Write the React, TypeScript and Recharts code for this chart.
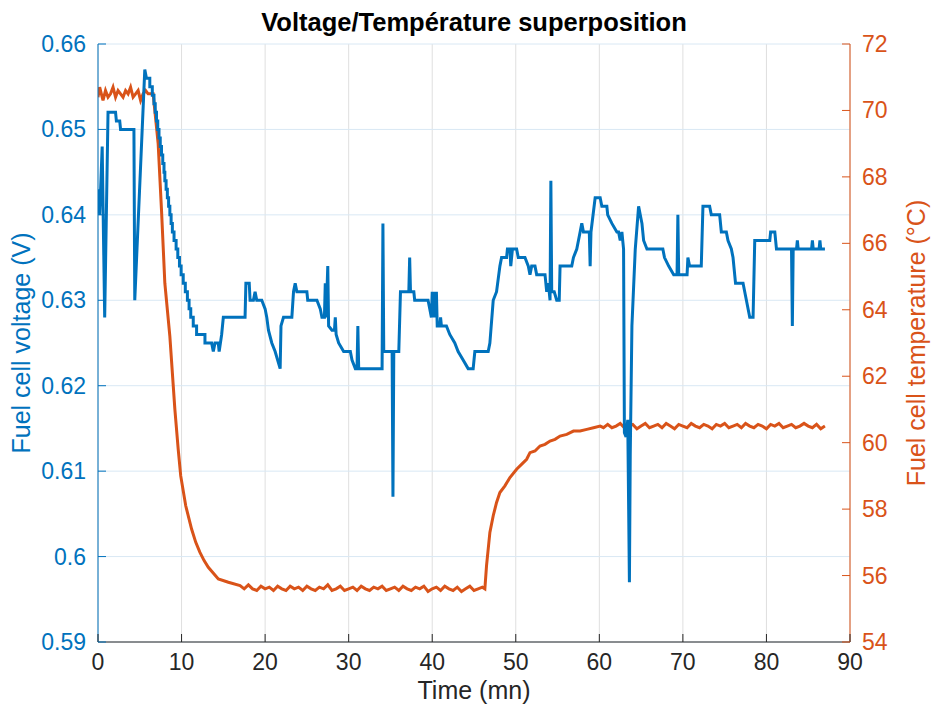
import React from 'react';
import { LineChart, Line, XAxis, YAxis, CartesianGrid, Label } from 'recharts';

const BLUE = '#0072BD';
const ORANGE = '#D95319';
const AXIS = '#262626';
const FONT = '"Liberation Sans", Arial, Helvetica, sans-serif';

const timeTicks = [0, 10, 20, 30, 40, 50, 60, 70, 80, 90];
const voltageTicks = [0.59, 0.6, 0.61, 0.62, 0.63, 0.64, 0.65, 0.66];
const temperatureTicks = [54, 56, 58, 60, 62, 64, 66, 68, 70, 72];

// [time (mn), voltage (V)]
const voltagePoints: [number, number][] = [
  [0, 0.643], [0.2, 0.64], [0.5, 0.648], [0.8, 0.628], [1.2, 0.652], [2.1, 0.652], [2.2, 0.651],
  [2.6, 0.651], [2.7, 0.65], [4.3, 0.65], [4.4, 0.63], [5.6, 0.657], [5.8, 0.656], [6.2, 0.656],
  [6.2, 0.655], [6.5, 0.655], [6.5, 0.654], [6.7, 0.654], [6.7, 0.653], [6.85, 0.653],
  [6.85, 0.652], [7.0, 0.652], [7.0, 0.651], [7.15, 0.651], [7.15, 0.65], [7.3, 0.65],
  [7.3, 0.649], [7.45, 0.649], [7.45, 0.648], [7.6, 0.648], [7.6, 0.647], [7.75, 0.647],
  [7.75, 0.646], [7.9, 0.646], [7.9, 0.645], [8.0, 0.645], [8.0, 0.644], [8.15, 0.644],
  [8.15, 0.643], [8.3, 0.643], [8.3, 0.642], [8.45, 0.642], [8.45, 0.641], [8.6, 0.641],
  [8.6, 0.64], [8.75, 0.64], [8.75, 0.639], [8.9, 0.639], [8.9, 0.638], [9.1, 0.638],
  [9.1, 0.637], [9.35, 0.637], [9.35, 0.636], [9.55, 0.636], [9.55, 0.635], [9.75, 0.635],
  [9.75, 0.634], [9.95, 0.634], [9.95, 0.633], [10.2, 0.633], [10.2, 0.632], [10.45, 0.632],
  [10.45, 0.631], [10.7, 0.631], [10.7, 0.63], [10.9, 0.63], [10.9, 0.629], [11.1, 0.629],
  [11.1, 0.628], [11.4, 0.628], [11.4, 0.627], [11.8, 0.627], [11.8, 0.626], [12.8, 0.626],
  [12.8, 0.625], [13.6, 0.625], [13.8, 0.624], [14.0, 0.625],
  [14.4, 0.625], [14.5, 0.624], [14.8, 0.626], [15.0, 0.628], [17.6, 0.628], [17.7, 0.632],
  [18.1, 0.632], [18.2, 0.63], [18.6, 0.63], [18.8, 0.631], [19.0, 0.63], [19.6, 0.63],
  [20.0, 0.629], [20.2, 0.628], [20.4, 0.6265], [20.8, 0.625], [21.2, 0.624], [21.5, 0.623],
  [21.8, 0.622], [21.9, 0.627],
  [22.2, 0.628], [23.2, 0.628], [23.4, 0.631], [23.6, 0.632], [23.8, 0.631], [25.0, 0.631],
  [25.1, 0.63], [26.2, 0.63], [26.6, 0.629], [26.8, 0.628], [27.1, 0.628], [27.2, 0.632],
  [27.3, 0.628], [27.5, 0.634], [27.6, 0.627], [28.0, 0.6265], [28.3, 0.6265], [28.4, 0.628],
  [28.5, 0.626], [28.8, 0.625], [29.4, 0.624], [30.2, 0.624], [30.4, 0.623], [30.8, 0.622],
  [31.0, 0.622], [31.1, 0.627], [31.2, 0.622], [34.0, 0.622], [34.1, 0.639], [34.2, 0.624],
  [35.2, 0.624], [35.3, 0.607], [35.4, 0.624], [36.0, 0.624], [36.2, 0.631], [37.2, 0.631],
  [37.3, 0.635], [37.4, 0.631], [37.8, 0.631], [37.9, 0.63], [39.5, 0.63], [39.7, 0.629],
  [39.9, 0.628], [40.0, 0.631], [40.1, 0.628], [40.3, 0.631], [40.4, 0.628], [40.5, 0.631],
  [40.6, 0.627], [40.9, 0.627], [41.0, 0.628], [41.1, 0.627], [41.7, 0.627], [42.1, 0.626],
  [42.7, 0.625], [43.1, 0.624], [43.7, 0.623], [44.3, 0.622], [44.9, 0.622], [45.1, 0.624],
  [46.7, 0.624], [46.9, 0.625], [47.3, 0.63], [47.7, 0.631], [48.1, 0.634], [48.3, 0.635],
  [48.9, 0.635], [49.0, 0.636], [49.3, 0.636], [49.4, 0.634], [49.6, 0.636], [50.1, 0.636],
  [50.3, 0.635], [51.1, 0.635], [51.5, 0.634], [51.7, 0.633], [51.9, 0.634], [52.3, 0.634],
  [52.5, 0.633], [53.5, 0.633], [53.7, 0.631], [53.9, 0.632], [54.1, 0.63], [54.2, 0.644],
  [54.3, 0.631], [54.6, 0.631], [54.9, 0.63], [55.2, 0.63], [55.3, 0.634], [56.7, 0.634],
  [56.9, 0.635], [57.3, 0.636], [57.7, 0.638], [57.9, 0.639], [58.1, 0.638], [58.8, 0.638],
  [58.9, 0.634], [59.0, 0.638], [59.5, 0.642], [60.1, 0.642], [60.3, 0.641], [60.9, 0.641],
  [61.0, 0.64], [61.5, 0.639], [62.1, 0.638], [62.3, 0.638], [62.5, 0.637], [62.7, 0.638],
  [62.9, 0.636], [63.0, 0.6145], [63.2, 0.614], [63.4, 0.616], [63.6, 0.597], [63.7, 0.612],
  [63.9, 0.627], [64.3, 0.636], [64.7, 0.641], [65.1, 0.639], [65.3, 0.637], [65.7, 0.636],
  [67.6, 0.636], [67.8, 0.635], [68.3, 0.634], [68.9, 0.633], [69.3, 0.633], [69.4, 0.64],
  [69.5, 0.633], [70.5, 0.633], [70.6, 0.635], [70.8, 0.634], [72.2, 0.634], [72.4, 0.641],
  [73.2, 0.641], [73.4, 0.64], [74.4, 0.64], [74.6, 0.638], [75.2, 0.638], [75.4, 0.637],
  [75.8, 0.636], [76.0, 0.635], [76.3, 0.632], [77.2, 0.632], [77.6, 0.63], [78.0, 0.628],
  [78.4, 0.628], [78.6, 0.637], [80.4, 0.637], [80.5, 0.638], [81.0, 0.638], [81.2, 0.636],
  [83.0, 0.636], [83.1, 0.627], [83.2, 0.636], [83.6, 0.636], [83.7, 0.637], [83.8, 0.636],
  [85.4, 0.636], [85.5, 0.637], [85.6, 0.636], [86.3, 0.636], [86.4, 0.637], [86.5, 0.636],
  [87.0, 0.636],
];

// [time (mn), temperature (°C)]
const temperaturePoints: [number, number][] = [
  [0, 70.4], [0.2, 70.7], [0.4, 70.5], [0.6, 70.3], [0.9, 70.6], [1.2, 70.4], [1.5, 70.5],
  [1.8, 70.7], [2.1, 70.4], [2.4, 70.6], [2.7, 70.5], [3.0, 70.4], [3.3, 70.6], [3.6, 70.5],
  [3.9, 70.7], [4.2, 70.4], [4.5, 70.5], [4.8, 70.6], [5.1, 70.3], [5.4, 70.5], [5.7, 70.6],
  [6.0, 70.5], [6.3, 70.5], [6.6, 70.5], [7.2, 69.0], [7.6, 67.0], [8.0, 64.8], [8.6, 63.2],
  [9.2, 61.0], [9.6, 59.8], [9.9, 59.0], [10.5, 58.1], [11.2, 57.4], [11.7, 57.0], [12.2, 56.7],
  [12.7, 56.45], [13.2, 56.25], [14.4, 55.9], [15.6, 55.8], [17.0, 55.7], [17.5, 55.6],
  [18, 55.72], [18.5, 55.6], [19, 55.55],
  [19.5, 55.68], [20, 55.6], [20.5, 55.65], [21, 55.55], [21.5, 55.68], [22, 55.6], [22.5, 55.55],
  [23, 55.68], [23.5, 55.6], [24, 55.65], [24.5, 55.55], [25, 55.68], [25.5, 55.6], [26, 55.55],
  [26.5, 55.65], [27, 55.6], [27.5, 55.72], [28, 55.55], [28.5, 55.6], [29, 55.68], [29.5, 55.55],
  [30, 55.6], [30.5, 55.65], [31, 55.55], [31.5, 55.68], [32, 55.6], [32.5, 55.55], [33, 55.65],
  [33.5, 55.6], [34, 55.68], [34.5, 55.55], [35, 55.6], [35.5, 55.65], [36, 55.55], [36.5, 55.68],
  [37, 55.6], [37.5, 55.55], [38, 55.65], [38.5, 55.6], [39, 55.68], [39.5, 55.52], [40, 55.6],
  [40.5, 55.65], [41, 55.55], [41.5, 55.68], [42, 55.6], [42.5, 55.55], [43, 55.65], [43.5, 55.52],
  [44, 55.6], [44.5, 55.68], [45, 55.55], [45.5, 55.6], [46, 55.65], [46.3, 55.6], [46.5, 56.3],
  [46.9, 57.3], [47.3, 57.8], [47.7, 58.2], [48.1, 58.5], [48.7, 58.7], [49.3, 58.95],
  [50.1, 59.2], [50.9, 59.4], [51.3, 59.5], [51.7, 59.7], [52.3, 59.75], [52.9, 59.9],
  [53.5, 59.95], [54.1, 60.05], [54.7, 60.1], [55.3, 60.2], [56.1, 60.25], [56.9, 60.35],
  [57.7, 60.35], [58.5, 60.4], [59.3, 60.45], [60.1, 60.5], [60.5, 60.45], [61, 60.55],
  [61.5, 60.45], [62, 60.5], [62.5, 60.58], [63, 60.45], [63.5, 60.5], [64, 60.55], [64.5, 60.42],
  [65, 60.5], [65.5, 60.58], [66, 60.45], [66.5, 60.5], [67, 60.55], [67.5, 60.45], [68, 60.58],
  [68.5, 60.5], [69, 60.42], [69.5, 60.55], [70, 60.5], [70.5, 60.45], [71, 60.58], [71.5, 60.5],
  [72, 60.45], [72.5, 60.55], [73, 60.5], [73.5, 60.42], [74, 60.55], [74.5, 60.5], [75, 60.58],
  [75.5, 60.45], [76, 60.5], [76.5, 60.55], [77, 60.45], [77.5, 60.58], [78, 60.5], [78.5, 60.45],
  [79, 60.55], [79.5, 60.5], [80, 60.42], [80.5, 60.55], [81, 60.5], [81.5, 60.58], [82, 60.45],
  [82.5, 60.5], [83, 60.55], [83.5, 60.45], [84, 60.5], [84.5, 60.58], [85, 60.5], [85.5, 60.45],
  [86, 60.55], [86.5, 60.42], [87, 60.5],
];

const voltageData = voltagePoints.map(([t, v]) => ({ t, v }));
const temperatureData = temperaturePoints.map(([t, T]) => ({ t, T }));

const TICK_LEN = 8;
const TICK_FONT = 23;
const LABEL_FONT = 25;

const fmt = (v: number) => String(Number(v.toFixed(2)));

// tickSize and tickMargin are 0, so x / y below sit on the axis line itself
const BottomTick = ({ x, y, payload }: any) => (
  <g>
    <line x1={x} x2={x} y1={y} y2={y - TICK_LEN} stroke={AXIS} />
    <text x={x} y={y + 28} textAnchor="middle" fill={AXIS} fontSize={TICK_FONT} fontFamily={FONT}>
      {payload.value}
    </text>
  </g>
);

const TopTick = ({ x, y }: any) => (
  <line x1={x} x2={x} y1={y} y2={y + TICK_LEN} stroke={AXIS} />
);

const LeftTick = ({ x, y, payload }: any) => (
  <g>
    <line x1={x} x2={x + TICK_LEN} y1={y} y2={y} stroke={BLUE} />
    <text x={x - 12} y={y + 8} textAnchor="end" fill={BLUE} fontSize={TICK_FONT} fontFamily={FONT}>
      {fmt(payload.value)}
    </text>
  </g>
);

const RightTick = ({ x, y, payload }: any) => (
  <g>
    <line x1={x} x2={x - TICK_LEN} y1={y} y2={y} stroke={ORANGE} />
    <text x={x + 12} y={y + 8} textAnchor="start" fill={ORANGE} fontSize={TICK_FONT} fontFamily={FONT}>
      {payload.value}
    </text>
  </g>
);

export default function App() {
  return (
    <div style={{ position: 'absolute', left: 0, top: 0, width: 933, height: 716, background: '#fff' }}>
      <div
        style={{
          position: 'absolute',
          left: 98,
          width: 752,
          top: 8,
          textAlign: 'center',
          fontFamily: FONT,
          fontWeight: 'bold',
          fontSize: 25.5,
          lineHeight: '28px',
          color: '#000',
        }}
      >
        Voltage/Température superposition
      </div>
      <LineChart width={933} height={716} margin={{ top: 44, right: 0, bottom: 0, left: 0 }}>
        <CartesianGrid xAxisId={0} yAxisId="v" horizontal={false} stroke="#dfdfdf" />
        <CartesianGrid xAxisId={0} yAxisId="v" vertical={false} stroke="#d9e8f4" />
        <XAxis
          xAxisId="top"
          orientation="top"
          type="number"
          domain={[0, 90]}
          ticks={timeTicks}
          interval={0}
          height={0}
          tickSize={0}
          tickMargin={0}
          tickLine={false}
          tick={<TopTick />}
          axisLine={{ stroke: AXIS }}
          allowDataOverflow
        />
        <XAxis
          dataKey="t"
          type="number"
          domain={[0, 90]}
          ticks={timeTicks}
          interval={0}
          height={74}
          tickSize={0}
          tickMargin={0}
          tickLine={false}
          tick={<BottomTick />}
          axisLine={{ stroke: AXIS }}
          allowDataOverflow
        >
          <Label
            content={({ viewBox }: any) => (
              <text
                x={viewBox.x + viewBox.width / 2}
                y={viewBox.y + 57}
                textAnchor="middle"
                fill={AXIS}
                fontSize={LABEL_FONT}
                fontFamily={FONT}
              >
                Time (mn)
              </text>
            )}
          />
        </XAxis>
        <YAxis
          yAxisId="v"
          type="number"
          domain={[0.59, 0.66]}
          ticks={voltageTicks}
          interval={0}
          width={98}
          tickSize={0}
          tickMargin={0}
          tickLine={false}
          tick={<LeftTick />}
          axisLine={{ stroke: BLUE }}
          allowDataOverflow
        >
          <Label
            content={({ viewBox }: any) => {
              const cx = viewBox.x + 30;
              const cy = viewBox.y + viewBox.height / 2;
              return (
                <text
                  x={cx}
                  y={cy}
                  transform={`rotate(-90, ${cx}, ${cy})`}
                  textAnchor="middle"
                  fill={BLUE}
                  fontSize={LABEL_FONT}
                  fontFamily={FONT}
                >
                  Fuel cell voltage (V)
                </text>
              );
            }}
          />
        </YAxis>
        <YAxis
          yAxisId="T"
          orientation="right"
          type="number"
          domain={[54, 72]}
          ticks={temperatureTicks}
          interval={0}
          width={83}
          tickSize={0}
          tickMargin={0}
          tickLine={false}
          tick={<RightTick />}
          axisLine={{ stroke: ORANGE }}
          allowDataOverflow
        >
          <Label
            content={({ viewBox }: any) => {
              const cx = viewBox.x + 75;
              const cy = viewBox.y + viewBox.height / 2;
              return (
                <text
                  x={cx}
                  y={cy}
                  transform={`rotate(-90, ${cx}, ${cy})`}
                  textAnchor="middle"
                  fill={ORANGE}
                  fontSize={LABEL_FONT}
                  fontFamily={FONT}
                >
                  Fuel cell temperature (°C)
                </text>
              );
            }}
          />
        </YAxis>
        <Line
          data={temperatureData}
          dataKey="T"
          yAxisId="T"
          type="linear"
          stroke={ORANGE}
          strokeWidth={3}
          dot={false}
          activeDot={false}
          isAnimationActive={false}
        />
        <Line
          data={voltageData}
          dataKey="v"
          yAxisId="v"
          type="linear"
          stroke={BLUE}
          strokeWidth={3}
          dot={false}
          activeDot={false}
          isAnimationActive={false}
        />
      </LineChart>
    </div>
  );
}
